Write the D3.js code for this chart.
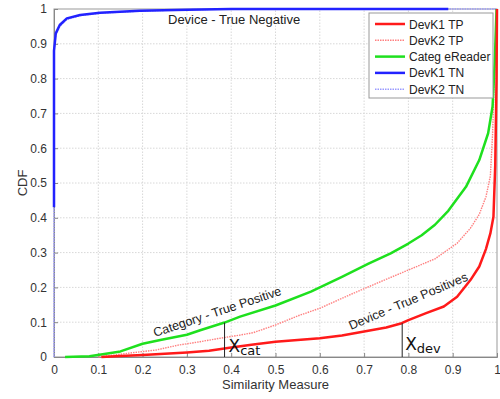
<!DOCTYPE html>
<html>
<head>
<meta charset="utf-8">
<script src="https://cdn.jsdelivr.net/npm/d3@7"></script>
<style>
  body { margin: 0; background: #fff; }
  svg { font-family: "Liberation Sans", Arial, sans-serif; }
</style>
</head>
<body>
<div id="chart"></div>
<script>
// values
const xTicks = [0, 0.1, 0.2, 0.3, 0.4, 0.5, 0.6, 0.7, 0.8, 0.9, 1];
const yTicks = [0, 0.1, 0.2, 0.3, 0.4, 0.5, 0.6, 0.7, 0.8, 0.9, 1];

const devK1TPx = [0.107, 0.15, 0.2, 0.25, 0.3, 0.35, 0.4, 0.45, 0.5, 0.55, 0.6, 0.65, 0.7, 0.75, 0.785, 0.8, 0.84, 0.88, 0.91, 0.94, 0.96, 0.975, 0.985, 0.992, 0.996, 0.999, 1.0];
const devK1TPy = [0, 0.003, 0.006, 0.009, 0.013, 0.018, 0.027, 0.036, 0.044, 0.049, 0.054, 0.062, 0.073, 0.085, 0.097, 0.106, 0.126, 0.145, 0.173, 0.221, 0.26, 0.31, 0.355, 0.403, 0.55, 0.8, 1.0];

const devK2TPx = [0.1, 0.15, 0.195, 0.23, 0.28, 0.33, 0.375, 0.42, 0.45, 0.5, 0.55, 0.6, 0.67, 0.74, 0.8, 0.86, 0.91, 0.94, 0.96, 0.975, 0.985, 0.99, 0.995, 1.0];
const devK2TPy = [0, 0.008, 0.015, 0.02, 0.034, 0.044, 0.054, 0.063, 0.07, 0.092, 0.118, 0.14, 0.18, 0.218, 0.25, 0.282, 0.327, 0.37, 0.41, 0.46, 0.52, 0.64, 0.85, 1.0];

const categX = [0.025, 0.08, 0.11, 0.15, 0.2, 0.24, 0.3, 0.33, 0.385, 0.42, 0.5, 0.58, 0.65, 0.71, 0.76, 0.8, 0.83, 0.86, 0.89, 0.93, 0.96, 0.98, 0.99, 0.995, 0.999];
const categY = [0, 0.002, 0.008, 0.016, 0.038, 0.049, 0.064, 0.077, 0.099, 0.116, 0.148, 0.188, 0.23, 0.268, 0.298, 0.326, 0.35, 0.38, 0.42, 0.489, 0.566, 0.643, 0.72, 0.85, 1.0];

const devK1TNx = [0, 0, 0.004, 0.013, 0.029, 0.059, 0.104, 0.194, 0.3, 0.4, 0.6, 0.89];
const devK1TNy = [0.43, 0.88, 0.93, 0.954, 0.973, 0.983, 0.989, 0.995, 0.998, 1, 1, 1];

const devK2TNx = [0, 0, 0.004, 0.013, 0.029, 0.059, 0.104, 0.194, 0.3, 0.4, 1.0];
const devK2TNy = [0, 0.88, 0.925, 0.95, 0.97, 0.981, 0.988, 0.994, 0.998, 1, 1];

const seriesNames = ["DevK1 TP", "DevK2 TP", "Categ eReader", "DevK1 TN", "DevK2 TN"];

// thresholds
const xCat = 0.385, xCatY = 0.099;
const xDev = 0.786, xDevY = 0.097;

const width = 500, height = 399;
const margin = {top: 9, right: 3, bottom: 42, left: 54};

const xScale = d3.scaleLinear().domain([0, 1]).range([margin.left, width - margin.right]);
const yScale = d3.scaleLinear().domain([0, 1]).range([height - margin.bottom, margin.top]);

const svg = d3.select("#chart").append("svg")
  .attr("width", width)
  .attr("height", height);

// grid
svg.append("g").selectAll("line.gx").data(xTicks.slice(1, -1)).join("line")
  .attr("x1", d => xScale(d)).attr("x2", d => xScale(d))
  .attr("y1", yScale(0)).attr("y2", yScale(1))
  .attr("stroke", "#d8d8d8").attr("stroke-dasharray", "1.5,1.5");
svg.append("g").selectAll("line.gy").data(yTicks.slice(1, -1)).join("line")
  .attr("x1", xScale(0)).attr("x2", xScale(1))
  .attr("y1", d => yScale(d)).attr("y2", d => yScale(d))
  .attr("stroke", "#d8d8d8").attr("stroke-dasharray", "1.5,1.5");

// frame
svg.append("rect")
  .attr("x", xScale(0)).attr("y", yScale(1))
  .attr("width", xScale(1) - xScale(0)).attr("height", yScale(0) - yScale(1))
  .attr("fill", "none").attr("stroke", "#999").attr("stroke-width", 1);

// axes
const xAxis = svg.append("g")
  .attr("transform", `translate(0, ${yScale(0)})`)
  .call(d3.axisBottom(xScale).tickValues(xTicks).tickFormat(d3.format("")).tickSize(-4).tickPadding(8));
const yAxis = svg.append("g")
  .attr("transform", `translate(${xScale(0)}, 0)`)
  .call(d3.axisLeft(yScale).tickValues(yTicks).tickFormat(d3.format("")).tickSize(-4).tickPadding(7));
[xAxis, yAxis].forEach(a => {
  a.select(".domain").attr("stroke", "#888");
  a.selectAll(".tick line").attr("stroke", "#888");
  a.selectAll(".tick text").attr("fill", "#333").attr("font-size", 12)
    .attr("font-family", "'Liberation Sans', Arial, sans-serif");
});

svg.append("text")
  .attr("x", (xScale(0) + xScale(1)) / 2).attr("y", 389)
  .attr("text-anchor", "middle").attr("font-size", 13).attr("fill", "#333")
  .text("Similarity Measure");
svg.append("text")
  .attr("transform", `translate(27, ${(yScale(0) + yScale(1)) / 2}) rotate(-90)`)
  .attr("text-anchor", "middle").attr("font-size", 13).attr("fill", "#333")
  .text("CDF");

// curves
const line = d3.line().x(d => xScale(d[0])).y(d => yScale(d[1]));
const zip = (xs, ys) => xs.map((x, i) => [x, ys[i]]);

const series = [
  {name: seriesNames[0], pts: zip(devK1TPx, devK1TPy), color: "#ff1a1a", w: 2.5, dash: null},
  {name: seriesNames[1], pts: zip(devK2TPx, devK2TPy), color: "#ff8080", w: 1.4, dash: "1.5,1"},
  {name: seriesNames[2], pts: zip(categX, categY), color: "#1ee01e", w: 2.5, dash: null},
  {name: seriesNames[3], pts: zip(devK1TNx, devK1TNy), color: "#2222ff", w: 2.5, dash: null},
  {name: seriesNames[4], pts: zip(devK2TNx, devK2TNy), color: "#9a9aff", w: 1.5, dash: "1.5,1"}
];

// draw order: dotted/light first, then solid
[4, 1, 3, 2, 0].forEach(i => {
  const s = series[i];
  svg.append("path")
    .datum(s.pts)
    .attr("d", line)
    .attr("fill", "none")
    .attr("stroke", s.color)
    .attr("stroke-width", s.w)
    .attr("stroke-dasharray", s.dash)
    .attr("stroke-linejoin", "round");
});

// threshold markers
[[xCat, xCatY], [xDev, xDevY]].forEach(([x, y]) => {
  svg.append("line")
    .attr("x1", xScale(x)).attr("x2", xScale(x))
    .attr("y1", yScale(0)).attr("y2", yScale(y))
    .attr("stroke", "#222").attr("stroke-width", 1);
});

const sub = (x, y, main, s) => {
  const t = svg.append("text").attr("x", x).attr("y", y).attr("fill", "#111")
    .attr("font-family", "'DejaVu Sans', sans-serif");
  t.append("tspan").attr("font-size", 17).text(main);
  t.append("tspan").attr("font-size", 13).attr("dy", 3).text(s);
};
sub(xScale(xCat) + 4, 352, "X", "cat");
sub(xScale(xDev) + 3, 350, "X", "dev");

// annotations
svg.append("text")
  .attr("x", 168).attr("y", 24).attr("font-size", 13).attr("fill", "#222")
  .text("Device - True Negative");
svg.append("text")
  .attr("transform", `translate(155, 337) rotate(-18.5)`)
  .attr("font-size", 12.5).attr("fill", "#222")
  .text("Category - True Positive");
svg.append("text")
  .attr("transform", `translate(351, 330) rotate(-23)`)
  .attr("font-size", 12.5).attr("fill", "#222")
  .text("Device - True Positives");

// legend
const lg = svg.append("g").attr("transform", "translate(369, 13)");
lg.append("rect").attr("width", 124).attr("height", 85)
  .attr("fill", "#fff").attr("stroke", "#999");
series.forEach((s, i) => {
  const y = 11 + i * 16.3;
  lg.append("line").attr("x1", 6).attr("x2", 36).attr("y1", y).attr("y2", y)
    .attr("stroke", s.color).attr("stroke-width", s.w).attr("stroke-dasharray", s.dash);
  lg.append("text").attr("x", 40).attr("y", y + 4.5)
    .attr("font-size", 12).attr("fill", "#222")
    .text(s.name);
});
</script>
</body>
</html>
